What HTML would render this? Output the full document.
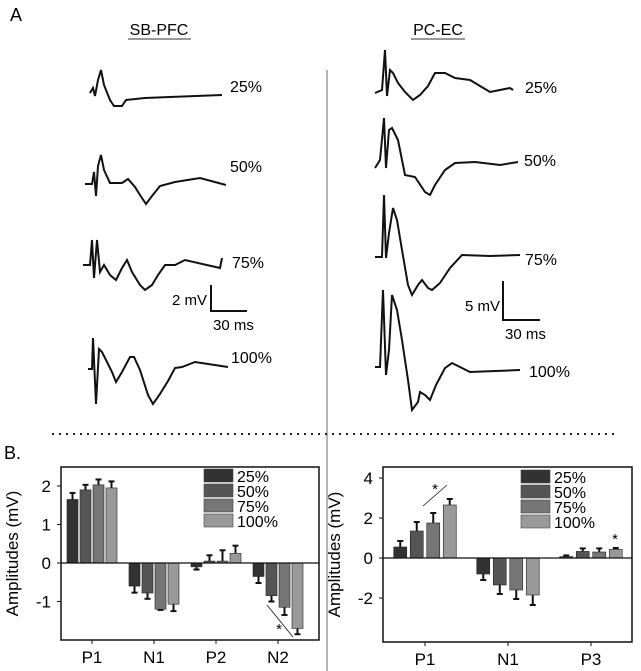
<!DOCTYPE html>
<html><head><meta charset="utf-8"><style>
body{margin:0;background:#fff}
svg{display:block;font-family:"Liberation Sans",sans-serif}
</style></head><body>
<svg id="fig" width="641" height="671" xmlns="http://www.w3.org/2000/svg">
<text x="10" y="21" font-size="18">A</text>
<text x="159" y="35" font-size="16" text-anchor="middle">SB-PFC</text>
<line x1="128" y1="39" x2="191" y2="39" stroke="#333"/>
<text x="438" y="35" font-size="16" text-anchor="middle">PC-EC</text>
<line x1="411" y1="39" x2="465" y2="39" stroke="#333"/>
<line x1="327" y1="70" x2="327" y2="671" stroke="#999" stroke-width="1.5"/>
<line x1="52" y1="434" x2="615" y2="434" stroke="#222" stroke-width="2" stroke-dasharray="2,5"/>
<text x="4" y="459" font-size="18">B.</text>
<g id="traces"></g>
<path d="M211 285V311H247" fill="none" stroke="#111" stroke-width="2"/>
<text x="207" y="305" font-size="15" text-anchor="end">2 mV</text>
<text x="213" y="330" font-size="15">30 ms</text>
<path d="M503 281V320H540" fill="none" stroke="#111" stroke-width="2"/>
<text x="500" y="311" font-size="15" text-anchor="end">5 mV</text>
<text x="505" y="339" font-size="15">30 ms</text>
<g id="charts"></g>
</svg>
<script>
const NS="http://www.w3.org/2000/svg";
const svg=document.getElementById('fig');
function mk(tag,attrs,parent){const e=document.createElementNS(NS,tag);for(const k in attrs)e.setAttribute(k,attrs[k]);(parent||svg).appendChild(e);return e;}
const traceLabels=["25%","50%","75%","100%"];
const leftTraces=[
[[90,93],[93,88],[95,96],[98,80],[101,70],[104,85],[110,100],[114,106],[122,106],[126,100],[145,98],[170,97],[222,95]],
[[85,184],[92,184],[94,172],[96,196],[98,166],[101,155],[104,170],[110,183],[122,183],[128,179],[135,187],[140,195],[146,204],[152,196],[160,186],[175,182],[200,178],[226,185]],
[[83,265],[90,265],[92,240],[94,278],[97,240],[100,272],[104,265],[110,275],[116,280],[122,268],[127,260],[132,272],[140,285],[145,290],[152,285],[158,275],[165,265],[175,265],[185,260],[220,268],[222,258]],
[[88,369],[92,369],[93,338],[96,404],[99,349],[102,352],[106,360],[112,372],[116,382],[122,372],[130,357],[134,357],[140,370],[148,395],[153,404],[160,394],[168,381],[175,368],[182,367],[195,362],[228,367]]];
const rightTraces=[
[[375,93],[382,90],[385,50],[387,96],[390,70],[393,73],[398,83],[405,92],[413,100],[420,95],[428,86],[435,73],[445,73],[455,78],[470,80],[490,92],[510,88],[513,90]],
[[375,168],[380,160],[384,118],[386,168],[389,130],[392,128],[398,140],[405,175],[415,177],[425,192],[430,195],[435,185],[445,170],[455,163],[475,162],[500,165],[518,162]],
[[375,257],[382,257],[384,195],[386,258],[389,233],[393,208],[397,220],[402,250],[408,285],[412,295],[418,285],[422,280],[428,288],[432,290],[440,283],[450,268],[462,255],[490,256],[520,255]],
[[375,367],[380,367],[383,290],[386,375],[389,350],[392,295],[397,310],[402,340],[408,380],[412,410],[418,402],[420,392],[425,395],[430,400],[436,385],[445,368],[452,363],[470,372],[520,370]]];
const leftLabelPos=[[230,92],[230,172],[232,268],[231,363]];
const rightLabelPos=[[525,93],[524,166],[525,265],[529,377]];
const tg=document.getElementById('traces');
[[leftTraces,leftLabelPos,'sb-pfc'],[rightTraces,rightLabelPos,'pc-ec']].forEach(([tr,lp,nm])=>{
 tr.forEach((pts,i)=>{
  const p=mk('polyline',{points:pts.map(q=>q.join(',')).join(' '),fill:'none',stroke:'#111','stroke-width':2},tg);
  
  
  const t=mk('text',{x:lp[i][0],y:lp[i][1],'font-size':16},tg);t.textContent=traceLabels[i];
  
  
 });
});
const legendLabels=["25%","50%","75%","100%"];
const colors=["#333232","#555555","#767676","#999999"];
const leftCats=["P1","N1","P2","N2"];
const leftVals=[[1.65,1.9,2.03,1.95],[-0.6,-0.78,-1.2,-1.07],[-0.1,0.05,0.05,0.25],[-0.35,-0.85,-1.15,-1.7]];
const leftErr=[[0.17,0.13,0.14,0.17],[0.17,0.15,0.02,0.18],[0.07,0.15,0.28,0.2],[0.17,0.15,0.2,0.15]];
const leftTicks=[2,1,0,-1];
const rightCats=["P1","N1","P3"];
const rightVals=[[0.55,1.35,1.75,2.65],[-0.8,-1.35,-1.6,-1.85],[0.07,0.33,0.3,0.43]];
const rightErr=[[0.3,0.45,0.5,0.3],[0.3,0.45,0.45,0.5],[0.06,0.15,0.18,0.07]];
const rightTicks=[4,2,0,-2];
const cg=document.getElementById('charts');
function chart(o){
 const y=v=>o.zeroY-v*o.ppu;
 const f=mk('rect',{x:o.x0,y:o.y0,width:o.x1-o.x0,height:o.y1-o.y0,fill:'none',stroke:'#111','stroke-width':1.5},cg);
 
 
 o.ticks.forEach(t=>{
  const l=mk('line',{x1:o.x0-4,x2:o.x0,y1:y(t),y2:y(t),stroke:'#111'},cg);
  
  
  const tx=mk('text',{x:o.x0-10,y:y(t)+6,'font-size':17,'text-anchor':'end'},cg);tx.textContent=t;
  
  
 });
 const at=mk('text',{transform:`translate(${o.x0-43},${(o.y0+o.y1)/2}) rotate(-90)`,'font-size':17,'text-anchor':'middle'},cg);at.textContent='Amplitudes (mV)';
 
 
 o.cats.forEach((c,ci)=>{
  const cx=o.c0+ci*o.sp;
  const tk=mk('line',{x1:cx,x2:cx,y1:o.y1,y2:o.y1+4,stroke:'#111'},cg);
  
  
  const tl=mk('text',{x:cx,y:o.y1+23,'font-size':17,'text-anchor':'middle'},cg);tl.textContent=c;
  
  
  o.vals[ci].forEach((v,si)=>{
   const bx=cx-2*o.step+si*o.step+(o.step-o.bw)/2;
   const top=Math.min(y(v),o.zeroY),h=Math.abs(y(v)-o.zeroY);
   const e=v>=0?v+o.err[ci][si]:v-o.err[ci][si];
   const el=mk('line',{x1:bx+o.bw/2,x2:bx+o.bw/2,y1:y(v),y2:y(e),stroke:'#111','stroke-width':2},cg);
   
   
   const ec=mk('line',{x1:bx+o.bw/2-3,x2:bx+o.bw/2+3,y1:y(e),y2:y(e),stroke:'#111','stroke-width':2},cg);
   
   
   const b=mk('rect',{x:bx,y:top,width:o.bw,height:h,fill:colors[si],stroke:'#222','stroke-width':0.6},cg);
   
   
  });
 });
 const z=mk('line',{x1:o.x0,x2:o.x1,y1:o.zeroY,y2:o.zeroY,stroke:'#111','stroke-width':1.3},cg);
 
 
 legendLabels.forEach((lb,i)=>{
  const r=mk('rect',{x:o.lx,y:o.ly+i*15,width:29,height:13,fill:colors[i],stroke:'#444','stroke-width':0.6},cg);
  
  
  const t=mk('text',{x:o.lx+33,y:o.ly+i*15+13,'font-size':16},cg);t.textContent=lb;
  
  
 });
}
chart({nm:'sb-pfc',x0:61,x1:319,y0:467,y1:640,zeroY:563,ppu:38.5,ticks:leftTicks,cats:leftCats,vals:leftVals,err:leftErr,c0:92,sp:62,step:13,bw:11,lx:204,ly:469});
chart({nm:'pc-ec',x0:383,x1:632,y0:467,y1:642,zeroY:558,ppu:20,ticks:rightTicks,cats:rightCats,vals:rightVals,err:rightErr,c0:425,sp:83,step:16.5,bw:13,lx:521,ly:470});
[[267,605,293,637],[423,506,447,485]].forEach((l,i)=>{
 const e=mk('line',{x1:l[0],y1:l[1],x2:l[2],y2:l[3],stroke:'#111','stroke-width':0.8},cg);
 
 
});
[[279,634],[435,494],[615,544]].forEach(p=>{
 const t=mk('text',{x:p[0],y:p[1],'font-size':15,'text-anchor':'middle'},cg);t.textContent='*';
 
 
});
</script>
</body></html>
